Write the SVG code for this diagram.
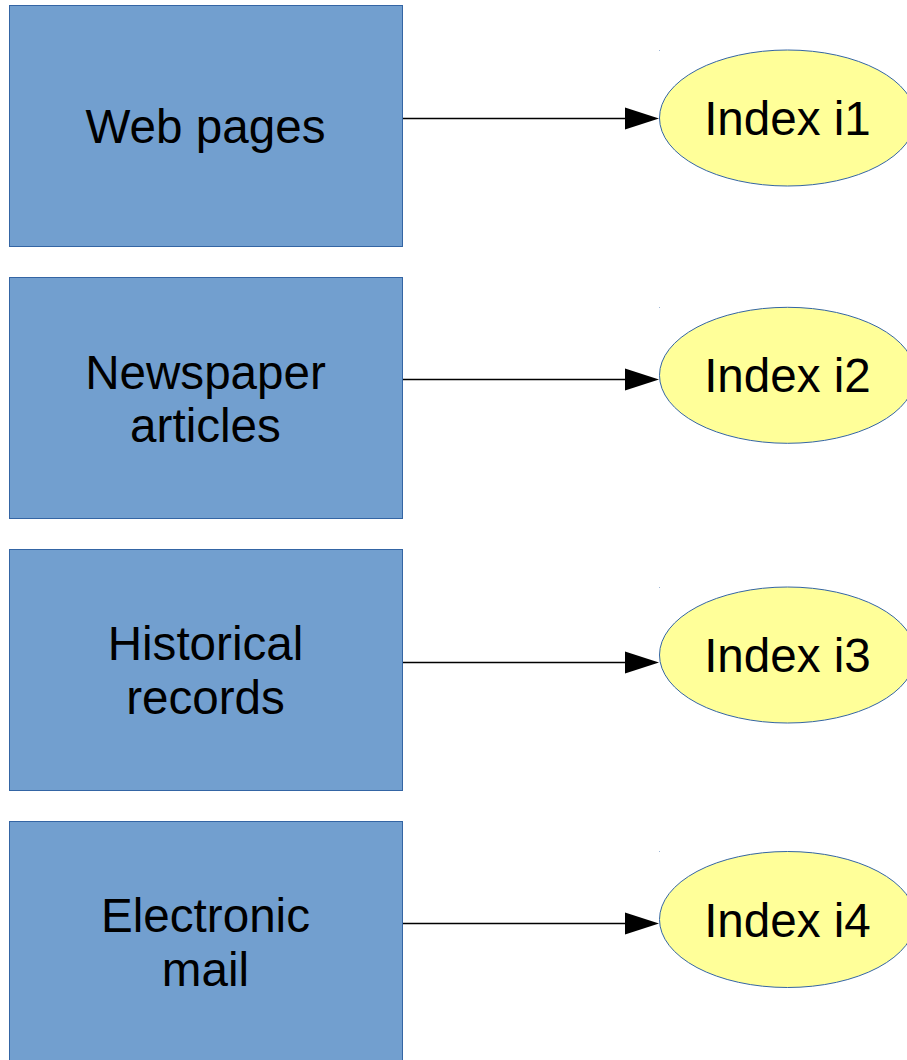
<svg xmlns="http://www.w3.org/2000/svg" width="907" height="1060" viewBox="0 0 907 1060">
<style>
.box{fill:#729fcf;stroke:#3465a4;stroke-width:1}
.idx{fill:#ffff99;stroke:#3465a4;stroke-width:1}
.lbl{font-family:"Liberation Sans",Arial,sans-serif;font-size:47.6px;fill:#000;text-anchor:middle}
.edge{stroke:#000;stroke-width:1.3;fill:none}
.head{fill:#000}
.dot{fill:#a0b8d8}
</style>
<rect width="907" height="1060" fill="#fff"/>
<g id="connectors">
<line class="edge" x1="402" y1="118.5" x2="628" y2="118.5"/>
<polygon class="head" points="625,107.5 659,118.5 625,129.5"/>
<line class="edge" x1="402" y1="379.5" x2="628" y2="379.5"/>
<polygon class="head" points="625,368.5 659,379.5 625,390.5"/>
<line class="edge" x1="402" y1="662.5" x2="628" y2="662.5"/>
<polygon class="head" points="625,651.5 659,662.5 625,673.5"/>
<line class="edge" x1="402" y1="923.5" x2="628" y2="923.5"/>
<polygon class="head" points="625,912.5 659,923.5 625,934.5"/>
</g>
<g id="web-pages">
<rect class="box" x="9.5" y="5.5" width="393" height="241"/>
<text class="lbl" x="205.5" y="143">Web pages</text>
</g>
<g id="newspaper-articles">
<rect class="box" x="9.5" y="277.5" width="393" height="241"/>
<text class="lbl" x="205.5" y="388.5">Newspaper</text>
<text class="lbl" x="205.5" y="441.5">articles</text>
</g>
<g id="historical-records">
<rect class="box" x="9.5" y="549.5" width="393" height="241"/>
<text class="lbl" x="205.5" y="659.5">Historical</text>
<text class="lbl" x="205.5" y="713.5">records</text>
</g>
<g id="electronic-mail">
<rect class="box" x="9.5" y="821.5" width="393" height="250"/>
<text class="lbl" x="205.5" y="931.5">Electronic</text>
<text class="lbl" x="205.5" y="985.5">mail</text>
</g>
<g id="index-i1">
<rect class="dot" x="659" y="50" width="1" height="1"/>
<ellipse class="idx" cx="787.5" cy="118" rx="128" ry="68"/>
<text class="lbl" x="787.5" y="135">Index i1</text>
</g>
<g id="index-i2">
<rect class="dot" x="659" y="307" width="1" height="1"/>
<ellipse class="idx" cx="787.5" cy="375.3" rx="128" ry="68"/>
<text class="lbl" x="787.5" y="391.7">Index i2</text>
</g>
<g id="index-i3">
<rect class="dot" x="659" y="587" width="1" height="1"/>
<ellipse class="idx" cx="787.5" cy="655" rx="128" ry="68"/>
<text class="lbl" x="787.5" y="671.7">Index i3</text>
</g>
<g id="index-i4">
<rect class="dot" x="659" y="851" width="1" height="1"/>
<ellipse class="idx" cx="787.5" cy="919.5" rx="128" ry="68"/>
<text class="lbl" x="787.5" y="937">Index i4</text>
</g>
</svg>
